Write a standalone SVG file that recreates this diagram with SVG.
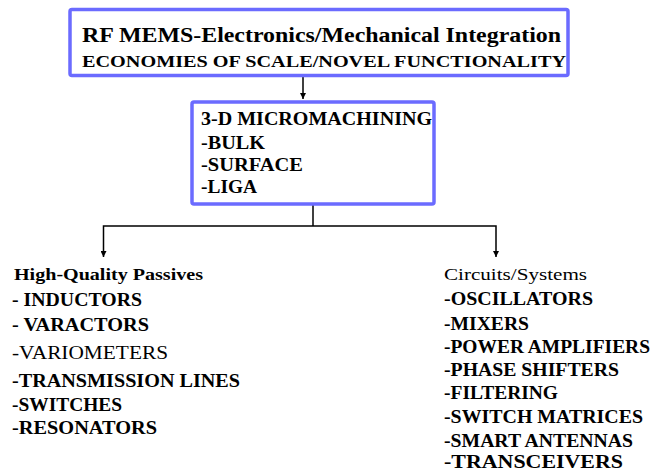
<svg xmlns="http://www.w3.org/2000/svg" width="652" height="472" viewBox="0 0 652 472">
<defs>
<style>
.box{fill:#fff;stroke:#6b6bff;stroke-width:3.5}
text{font-family:"Liberation Serif","DejaVu Serif","Times New Roman",serif;fill:#000;font-weight:bold}
.r{font-weight:normal}
.ln{stroke:#000;stroke-width:1.5;fill:none}
</style>
<marker id="ah" viewBox="0 0 10 10" refX="10" refY="5" markerWidth="6" markerHeight="6" orient="auto" markerUnits="userSpaceOnUse">
<path d="M0,0 L10,5 L0,10 z" fill="#000"/>
</marker>
</defs>
<rect width="652" height="472" fill="#fff"/>
<g id="connectors">
<line class="ln" x1="303" y1="77" x2="303" y2="99" marker-end="url(#ah)"/>
<polyline class="ln" points="313,205 313,226"/>
<polyline class="ln" points="313,226 103.5,226 103.5,257" marker-end="url(#ah)"/>
<polyline class="ln" points="313,226 496,226 496,257" marker-end="url(#ah)"/>
</g>
<g id="node-top">
<rect class="box" x="70" y="9.5" width="498" height="66" rx="2"/>
<text x="82" y="42" font-size="20" textLength="479" lengthAdjust="spacingAndGlyphs">RF MEMS-Electronics/Mechanical Integration</text>
<text x="82" y="67" font-size="17" textLength="484" lengthAdjust="spacingAndGlyphs">ECONOMIES OF SCALE/NOVEL FUNCTIONALITY</text>
</g>
<g id="node-micromachining">
<rect class="box" x="192" y="102" width="242" height="102" rx="2"/>
<text x="201" y="125" font-size="18" textLength="231" lengthAdjust="spacingAndGlyphs">3-D MICROMACHINING</text>
<text x="201" y="149" font-size="18" textLength="64" lengthAdjust="spacingAndGlyphs">-BULK</text>
<text x="201" y="171" font-size="18" textLength="102" lengthAdjust="spacingAndGlyphs">-SURFACE</text>
<text x="201" y="193" font-size="18" textLength="56" lengthAdjust="spacingAndGlyphs">-LIGA</text>
</g>
<g id="node-passives">
<text x="14" y="280" font-size="17" textLength="189" lengthAdjust="spacingAndGlyphs">High-Quality Passives</text>
<text x="12" y="306" font-size="18" textLength="130" lengthAdjust="spacingAndGlyphs">- INDUCTORS</text>
<text x="12" y="331" font-size="18" textLength="137" lengthAdjust="spacingAndGlyphs">- VARACTORS</text>
<text class="r" x="12" y="359" font-size="18" textLength="156" lengthAdjust="spacingAndGlyphs">-VARIOMETERS</text>
<text x="12" y="387" font-size="18" textLength="228" lengthAdjust="spacingAndGlyphs">-TRANSMISSION LINES</text>
<text x="12" y="411" font-size="18" textLength="110" lengthAdjust="spacingAndGlyphs">-SWITCHES</text>
<text x="12" y="434" font-size="18" textLength="145" lengthAdjust="spacingAndGlyphs">-RESONATORS</text>
</g>
<g id="node-circuits">
<text class="r" x="444" y="280" font-size="17" textLength="143" lengthAdjust="spacingAndGlyphs">Circuits/Systems</text>
<text x="444" y="305" font-size="18" textLength="149" lengthAdjust="spacingAndGlyphs">-OSCILLATORS</text>
<text x="444" y="330" font-size="18" textLength="85" lengthAdjust="spacingAndGlyphs">-MIXERS</text>
<text x="444" y="353" font-size="18" textLength="206" lengthAdjust="spacingAndGlyphs">-POWER AMPLIFIERS</text>
<text x="444" y="376" font-size="18" textLength="175" lengthAdjust="spacingAndGlyphs">-PHASE SHIFTERS</text>
<text x="444" y="399" font-size="18" textLength="114" lengthAdjust="spacingAndGlyphs">-FILTERING</text>
<text x="444" y="423" font-size="18" textLength="199" lengthAdjust="spacingAndGlyphs">-SWITCH MATRICES</text>
<text x="444" y="447" font-size="18" textLength="189" lengthAdjust="spacingAndGlyphs">-SMART ANTENNAS</text>
<text x="444" y="468" font-size="18" textLength="179" lengthAdjust="spacingAndGlyphs">-TRANSCEIVERS</text>
</g>
</svg>
